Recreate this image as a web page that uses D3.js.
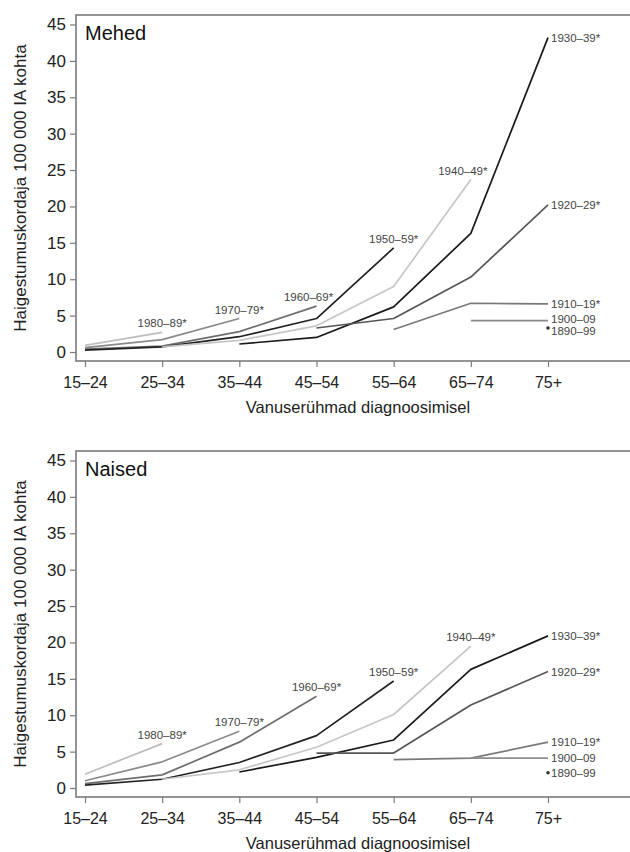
<!DOCTYPE html>
<html>
<head>
<meta charset="utf-8">
<script src="https://cdn.jsdelivr.net/npm/d3@7"></script>
<style>
  body { margin: 0; background: #fff; }
  text { font-family: "Liberation Sans", Arial, sans-serif; }
</style>
</head>
<body>
<div id="chart"></div>
<script>
var width = 630, height = 852;

// age groups at diagnosis
var ages = ["15–24", "25–34", "35–44", "45–54", "55–64", "65–74", "75+"];
var yTicks = [0, 5, 10, 15, 20, 25, 30, 35, 40, 45];

// birth cohorts and the first age group each one is observed in
var cohorts = ["1980–89*", "1970–79*", "1960–69*", "1950–59*", "1940–49*",
               "1930–39*", "1920–29*", "1910–19*", "1900–09", "1890–99"];
var firstAge = [0, 0, 0, 0, 1, 2, 3, 4, 5, 6];

// incidence per 100 000 person-years
var menValues = [
    [0.9, 2.7],
    [0.6, 1.7, 4.6],
    [0.4, 0.8, 2.8, 6.3],
    [0.25, 0.7, 2.1, 4.6, 14.3],
    [0.7, 1.6, 3.6, 9.0, 23.7],
    [1.1, 2.0, 6.2, 16.3, 43.2],
    [3.3, 4.6, 10.3, 20.2],
    [3.1, 6.7, 6.6],
    [4.3, 4.3],
    [3.3]
];
var womenValues = [
    [1.9, 6.1],
    [1.0, 3.6, 7.8],
    [0.6, 1.8, 6.3, 12.6],
    [0.4, 1.2, 3.5, 7.2, 14.7],
    [1.2, 2.5, 5.6, 10.1, 19.5],
    [2.2, 4.2, 6.6, 16.3, 20.9],
    [4.8, 4.8, 11.4, 16.0],
    [3.9, 4.1, 6.3],
    [4.1, 4.1],
    [2.1]
];

var lineColors = ["#bdbdbd", "#8a8a8a", "#6e6e6e", "#222222", "#c6c6c6",
                  "#1a1a1a", "#565656", "#7a7a7a", "#8c8c8c", "#333333"];
// label nudges (x for labels above line ends, y for labels right of 75+)
var menLabelShift = [0, 0, -8, 0, -8, 0, 0, 0, -2, 3];
var womenLabelShift = [0, 0, 0, 0, 0, 0, 0, 0, 0, 0];

var panels = [
    {title: "Mehed", top: 15, values: menValues, shift: menLabelShift},
    {title: "Naised", top: 451, values: womenValues, shift: womenLabelShift}
];

var svg = d3.select("#chart")
    .append("svg")
    .attr("width", width)
    .attr("height", height);

var frameLeft = 76, frameRight = 640, frameH = 346;

var x = d3.scalePoint()
    .domain(ages)
    .range([85, 548]);

var y = d3.scaleLinear()
    .domain([0, 45])
    .range([337, 9.5]);

var line = d3.line()
    .x(function (d) { return x(d.age); })
    .y(function (d) { return y(d.v); });

panels.forEach(function (p) {
    var g = svg.append("g")
        .attr("transform", "translate(0," + p.top + ")");

    // frame
    g.append("rect")
        .attr("x", frameLeft)
        .attr("y", 0)
        .attr("width", frameRight - frameLeft)
        .attr("height", frameH)
        .attr("fill", "none")
        .attr("stroke", "#7a7a7a")
        .attr("stroke-width", 1.6);

    // y axis
    var yAxis = g.append("g")
        .attr("transform", "translate(" + frameLeft + ",0)")
        .call(d3.axisLeft(y).tickValues(yTicks).tickSize(6).tickPadding(4));
    yAxis.select(".domain").remove();
    yAxis.selectAll("line").attr("stroke", "#7a7a7a").attr("stroke-width", 1.2);
    yAxis.selectAll("text")
        .attr("font-size", "17px")
        .attr("fill", "#222")
        .style("font-family", "'Liberation Sans', Arial, sans-serif");

    // x axis
    var xAxis = g.append("g")
        .attr("transform", "translate(0," + frameH + ")")
        .call(d3.axisBottom(x).tickSize(6).tickPadding(10));
    xAxis.select(".domain").remove();
    xAxis.selectAll("line").attr("stroke", "#7a7a7a").attr("stroke-width", 1.2);
    xAxis.selectAll("text")
        .attr("font-size", "16px")
        .attr("fill", "#222")
        .style("font-family", "'Liberation Sans', Arial, sans-serif");

    // axis titles
    g.append("text")
        .attr("x", 358)
        .attr("y", 398)
        .attr("text-anchor", "middle")
        .attr("font-size", "16.5px")
        .attr("fill", "#222")
        .text("Vanuserühmad diagnoosimisel");

    g.append("text")
        .attr("transform", "translate(26," + (frameH / 2) + ") rotate(-90)")
        .attr("text-anchor", "middle")
        .attr("font-size", "17px")
        .attr("fill", "#222")
        .text("Haigestumuskordaja 100 000 IA kohta");

    g.append("text")
        .attr("x", 85)
        .attr("y", 25)
        .attr("font-size", "20px")
        .attr("fill", "#111")
        .text(p.title);

    // cohort lines
    var series = cohorts.map(function (c, i) {
        return {
            name: c,
            color: lineColors[i],
            shift: p.shift[i],
            points: p.values[i].map(function (v, j) {
                return {age: ages[firstAge[i] + j], v: v};
            })
        };
    });

    var s = g.selectAll(".cohort")
        .data(series)
        .enter()
        .append("g")
        .attr("class", "cohort");

    s.filter(function (d) { return d.points.length > 1; })
        .append("path")
        .attr("d", function (d) { return line(d.points); })
        .attr("fill", "none")
        .attr("stroke", function (d) { return d.color; })
        .attr("stroke-width", 1.7)
        .attr("stroke-linejoin", "round");

    s.filter(function (d) { return d.points.length === 1; })
        .append("circle")
        .attr("cx", function (d) { return x(d.points[0].age); })
        .attr("cy", function (d) { return y(d.points[0].v); })
        .attr("r", 1.8)
        .attr("fill", function (d) { return d.color; });

    s.append("text")
        .attr("font-size", "11.5px")
        .attr("fill", "#444")
        .attr("text-anchor", function (d) {
            return d.points[d.points.length - 1].age === "75+" ? "start" : "middle";
        })
        .attr("x", function (d) {
            var last = d.points[d.points.length - 1];
            return last.age === "75+" ? x(last.age) + 3 : x(last.age) + d.shift;
        })
        .attr("y", function (d) {
            var last = d.points[d.points.length - 1];
            return last.age === "75+" ? y(last.v) + 4 + d.shift : y(last.v) - 5;
        })
        .text(function (d) { return d.name; });
});
</script>
</body>
</html>
